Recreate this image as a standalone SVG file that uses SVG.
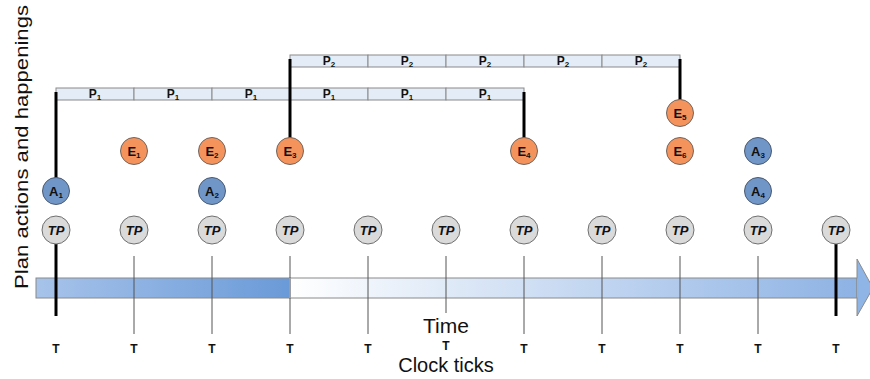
<svg xmlns="http://www.w3.org/2000/svg" width="870" height="379" viewBox="0 0 870 379">
  <style>
    .lbl { font-family: "Liberation Sans", Arial, sans-serif; font-weight: bold; fill: #111; }
    .node-e { fill: #f5935d; stroke: #6f6660; stroke-width: 1; }
    .node-a { fill: #7096c8; stroke: #4a5a70; stroke-width: 1; }
    .node-tp { fill: #dadada; stroke: #707070; stroke-width: 1; }
    .seg { fill: #e4ecf7; stroke: #8a8a8a; stroke-width: 1; }
    .tick { stroke: #555; stroke-width: 1; }
    .thick { stroke: #000; stroke-width: 3; fill: none; }
    .axis { font-family: "Liberation Sans", Arial, sans-serif; fill: #111; }
    .t { font-family: "Liberation Sans", Arial, sans-serif; font-weight: bold; font-size: 12px; fill: #111; text-anchor: middle; }
  </style>
  <defs>
    <linearGradient id="pastFill" x1="0" y1="0" x2="1" y2="0">
      <stop offset="0" stop-color="#a7c3ea"/>
      <stop offset="1" stop-color="#6a9ad8"/>
    </linearGradient>
    <linearGradient id="futureFill" x1="290" y1="0" x2="858" y2="0" gradientUnits="userSpaceOnUse">
      <stop offset="0" stop-color="#ffffff"/>
      <stop offset="1" stop-color="#8db2e4"/>
    </linearGradient>
  </defs>

  <rect width="870" height="379" fill="#ffffff"/>

  <!-- time arrow -->
  <g id="time-arrow">
    <rect x="290" y="278" width="567" height="20" fill="url(#futureFill)" stroke="#8a8a8a" stroke-width="1"/>
    <polygon points="857,259 873,288 857,316" fill="#8fb4e6" stroke="#8a8a8a" stroke-width="1"/>
    <rect x="857" y="278.5" width="2" height="19" fill="#8db2e4"/>
    <rect x="36" y="278" width="254" height="20" fill="url(#pastFill)" stroke="#8a8a8a" stroke-width="1"/>
    <line x1="290" y1="278" x2="290" y2="298" stroke="#ffffff" stroke-width="1.5"/>
  </g>

  <!-- clock tick lines -->
  <g id="ticks">
    <line class="tick" x1="134" y1="256" x2="134" y2="334"/>
    <line class="tick" x1="212" y1="256" x2="212" y2="334"/>
    <line class="tick" x1="290" y1="256" x2="290" y2="334"/>
    <line class="tick" x1="368" y1="256" x2="368" y2="334"/>
    <line class="tick" x1="446" y1="256" x2="446" y2="313"/>
    <line class="tick" x1="524" y1="256" x2="524" y2="334"/>
    <line class="tick" x1="602" y1="256" x2="602" y2="334"/>
    <line class="tick" x1="680" y1="256" x2="680" y2="334"/>
    <line class="tick" x1="758" y1="256" x2="758" y2="334"/>
  </g>

  <!-- plan bars -->
  <g id="plan-p2">
    <rect class="seg" x="290" y="55" width="78" height="12"/>
    <rect class="seg" x="368" y="55" width="78" height="12"/>
    <rect class="seg" x="446" y="55" width="78" height="12"/>
    <rect class="seg" x="524" y="55" width="78" height="12"/>
    <rect class="seg" x="602" y="55" width="78" height="12"/>
    <g class="lbl" font-size="12" text-anchor="middle">
      <text x="329" y="65">P<tspan font-size="8" dy="2">2</tspan></text>
      <text x="407" y="65">P<tspan font-size="8" dy="2">2</tspan></text>
      <text x="485" y="65">P<tspan font-size="8" dy="2">2</tspan></text>
      <text x="563" y="65">P<tspan font-size="8" dy="2">2</tspan></text>
      <text x="641" y="65">P<tspan font-size="8" dy="2">2</tspan></text>
    </g>
  </g>
  <g id="plan-p1">
    <rect class="seg" x="56" y="88" width="78" height="12"/>
    <rect class="seg" x="134" y="88" width="78" height="12"/>
    <rect class="seg" x="212" y="88" width="78" height="12"/>
    <rect class="seg" x="290" y="88" width="78" height="12"/>
    <rect class="seg" x="368" y="88" width="78" height="12"/>
    <rect class="seg" x="446" y="88" width="78" height="12"/>
    <g class="lbl" font-size="12" text-anchor="middle">
      <text x="95" y="98">P<tspan font-size="8" dy="2">1</tspan></text>
      <text x="173" y="98">P<tspan font-size="8" dy="2">1</tspan></text>
      <text x="251" y="98">P<tspan font-size="8" dy="2">1</tspan></text>
      <text x="329" y="98">P<tspan font-size="8" dy="2">1</tspan></text>
      <text x="407" y="98">P<tspan font-size="8" dy="2">1</tspan></text>
      <text x="485" y="98">P<tspan font-size="8" dy="2">1</tspan></text>
    </g>
  </g>

  <!-- connectors -->
  <g id="connectors">
    <line class="thick" x1="56" y1="92" x2="56" y2="179"/>
    <line class="thick" x1="290" y1="59" x2="290" y2="138"/>
    <line class="thick" x1="524" y1="92" x2="524" y2="138"/>
    <line class="thick" x1="680" y1="59" x2="680" y2="100"/>
    <line class="thick" x1="56" y1="244" x2="56" y2="316"/>
    <line class="thick" x1="836" y1="244" x2="836" y2="316"/>
  </g>

  <!-- happenings -->
  <g id="E1"><circle class="node-e" cx="134" cy="151" r="13.5"/><text class="lbl" font-size="13" x="134" y="155.5" text-anchor="middle">E<tspan font-size="8" dy="2">1</tspan></text></g>
  <g id="E2"><circle class="node-e" cx="212" cy="151" r="13.5"/><text class="lbl" font-size="13" x="212" y="155.5" text-anchor="middle">E<tspan font-size="8" dy="2">2</tspan></text></g>
  <g id="E3"><circle class="node-e" cx="290" cy="151" r="13.5"/><text class="lbl" font-size="13" x="290" y="155.5" text-anchor="middle">E<tspan font-size="8" dy="2">3</tspan></text></g>
  <g id="E4"><circle class="node-e" cx="524" cy="151" r="13.5"/><text class="lbl" font-size="13" x="524" y="155.5" text-anchor="middle">E<tspan font-size="8" dy="2">4</tspan></text></g>
  <g id="E5"><circle class="node-e" cx="680" cy="113" r="13.5"/><text class="lbl" font-size="13" x="680" y="117.5" text-anchor="middle">E<tspan font-size="8" dy="2">5</tspan></text></g>
  <g id="E6"><circle class="node-e" cx="680" cy="151" r="13.5"/><text class="lbl" font-size="13" x="680" y="155.5" text-anchor="middle">E<tspan font-size="8" dy="2">6</tspan></text></g>

  <!-- plan actions -->
  <g id="A1"><circle class="node-a" cx="56" cy="191" r="13.5"/><text class="lbl" font-size="13" x="56" y="195.5" text-anchor="middle">A<tspan font-size="8" dy="2">1</tspan></text></g>
  <g id="A2"><circle class="node-a" cx="212" cy="191" r="13.5"/><text class="lbl" font-size="13" x="212" y="195.5" text-anchor="middle">A<tspan font-size="8" dy="2">2</tspan></text></g>
  <g id="A3"><circle class="node-a" cx="758" cy="151" r="13.5"/><text class="lbl" font-size="13" x="758" y="155.5" text-anchor="middle">A<tspan font-size="8" dy="2">3</tspan></text></g>
  <g id="A4"><circle class="node-a" cx="758" cy="191" r="13.5"/><text class="lbl" font-size="13" x="758" y="195.5" text-anchor="middle">A<tspan font-size="8" dy="2">4</tspan></text></g>

  <!-- time points -->
  <g id="TP1"><circle class="node-tp" cx="56" cy="230" r="14"/><text class="lbl" font-size="13" font-style="italic" x="56" y="234.5" text-anchor="middle">TP</text></g>
  <g id="TP2"><circle class="node-tp" cx="134" cy="230" r="14"/><text class="lbl" font-size="13" font-style="italic" x="134" y="234.5" text-anchor="middle">TP</text></g>
  <g id="TP3"><circle class="node-tp" cx="212" cy="230" r="14"/><text class="lbl" font-size="13" font-style="italic" x="212" y="234.5" text-anchor="middle">TP</text></g>
  <g id="TP4"><circle class="node-tp" cx="290" cy="230" r="14"/><text class="lbl" font-size="13" font-style="italic" x="290" y="234.5" text-anchor="middle">TP</text></g>
  <g id="TP5"><circle class="node-tp" cx="368" cy="230" r="14"/><text class="lbl" font-size="13" font-style="italic" x="368" y="234.5" text-anchor="middle">TP</text></g>
  <g id="TP6"><circle class="node-tp" cx="446" cy="230" r="14"/><text class="lbl" font-size="13" font-style="italic" x="446" y="234.5" text-anchor="middle">TP</text></g>
  <g id="TP7"><circle class="node-tp" cx="524" cy="230" r="14"/><text class="lbl" font-size="13" font-style="italic" x="524" y="234.5" text-anchor="middle">TP</text></g>
  <g id="TP8"><circle class="node-tp" cx="602" cy="230" r="14"/><text class="lbl" font-size="13" font-style="italic" x="602" y="234.5" text-anchor="middle">TP</text></g>
  <g id="TP9"><circle class="node-tp" cx="680" cy="230" r="14"/><text class="lbl" font-size="13" font-style="italic" x="680" y="234.5" text-anchor="middle">TP</text></g>
  <g id="TP10"><circle class="node-tp" cx="758" cy="230" r="14"/><text class="lbl" font-size="13" font-style="italic" x="758" y="234.5" text-anchor="middle">TP</text></g>
  <g id="TP11"><circle class="node-tp" cx="836" cy="230" r="14"/><text class="lbl" font-size="13" font-style="italic" x="836" y="234.5" text-anchor="middle">TP</text></g>

  <!-- clock tick labels -->
  <g id="tick-labels">
    <text class="t" x="56" y="353">T</text>
    <text class="t" x="134" y="353">T</text>
    <text class="t" x="212" y="353">T</text>
    <text class="t" x="290" y="353">T</text>
    <text class="t" x="368" y="353">T</text>
    <text class="t" x="446" y="350">T</text>
    <text class="t" x="524" y="353">T</text>
    <text class="t" x="602" y="353">T</text>
    <text class="t" x="680" y="353">T</text>
    <text class="t" x="758" y="353">T</text>
    <text class="t" x="836" y="353">T</text>
  </g>

  <!-- axis captions -->
  <text class="axis" font-size="20" x="446" y="372" text-anchor="middle">Clock ticks</text>
  <text class="axis" font-size="21" x="446" y="333" text-anchor="middle">Time</text>
  <text class="axis" font-size="18" text-anchor="middle" transform="translate(28,147) rotate(-90)" textLength="284" lengthAdjust="spacingAndGlyphs">Plan actions and happenings</text>
</svg>
